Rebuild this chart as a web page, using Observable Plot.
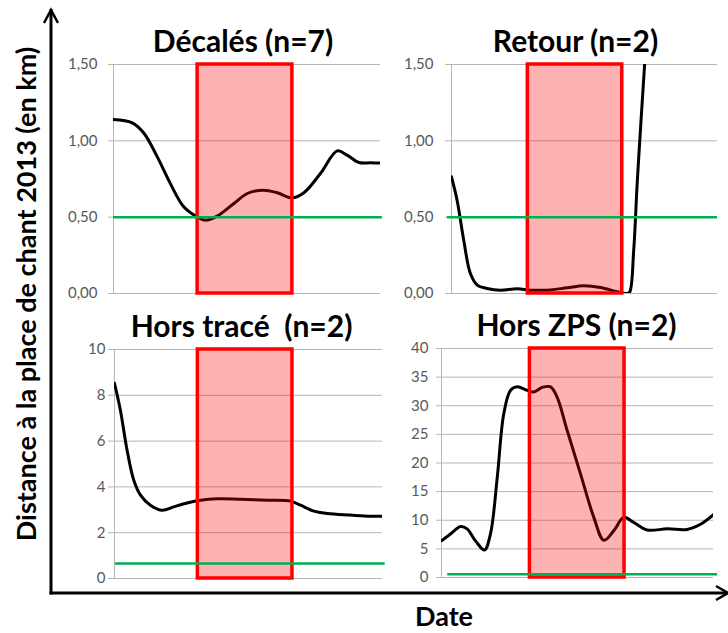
<!DOCTYPE html>
<html>
<head>
<meta charset="utf-8">
<script src="https://cdn.jsdelivr.net/npm/d3@7"></script>
<script src="https://cdn.jsdelivr.net/npm/@observablehq/plot@0.6"></script>
<style>
  html, body { margin: 0; padding: 0; background: #fff; }
  #root { position: relative; width: 728px; height: 633px; overflow: hidden; font-family: Lato, "Open Sans", sans-serif; }
  #root > svg, #root > div { position: absolute; }
  .ptitle { white-space: pre; }
</style>
</head>
<body>
<div id="root"></div>
<script>
// ---------- DATA ----------
const panelTitles = ["Décalés (n=7)", "Retour (n=2)", "Hors tracé  (n=2)", "Hors ZPS (n=2)"];
const yAxisTitle = "Distance à la place de chant 2013 (en km)";
const xAxisTitle = "Date";

// x = relative date position (0 = start, 100 = end of the period shown)
const decalesT = [0, 7, 11.4, 16.4, 21.3, 26.3, 31.3, 34.5, 38.8, 45.1, 50.1, 56.3, 61.3, 66.9, 71.3, 77.5, 83.8, 87.5, 91.9, 96.3, 100];
const decalesD = [1.14, 1.118, 1.05, 0.895, 0.72, 0.568, 0.502, 0.48, 0.507, 0.59, 0.655, 0.677, 0.66, 0.627, 0.66, 0.786, 0.934, 0.906, 0.858, 0.856, 0.855];

const retourT = [0, 2.1, 4.6, 7.1, 9.7, 13.4, 18.4, 24.7, 29.7, 36, 43.5, 49.7, 56, 62.3, 66, 67, 68.5, 69.8, 71.1, 72.6, 76];
const retourD = [0.764, 0.611, 0.349, 0.131, 0.055, 0.033, 0.022, 0.031, 0.022, 0.022, 0.037, 0.05, 0.039, 0.011, 0, 0.01, 0.284, 0.72, 1.09, 1.5, 2.3];

const horsTraceT = [0, 2.2, 4.7, 7.2, 9.7, 13.4, 17.8, 22.1, 27.1, 32.1, 38.3, 47, 57, 65.7, 69.4, 74.4, 79.4, 88.1, 95.5, 100];
const horsTraceD = [8.52, 7.35, 5.6, 4.29, 3.64, 3.2, 2.98, 3.13, 3.3, 3.42, 3.48, 3.46, 3.42, 3.38, 3.2, 2.94, 2.84, 2.77, 2.72, 2.72];

const horsZpsT = [0, 3.3, 7, 9.4, 12.5, 15.8, 18, 20.5, 22.9, 25.4, 27.8, 31.5, 33.9, 37, 40.1, 42.5, 46.2, 51.1, 56, 59.7, 63.4, 67, 70.7, 75.6, 83, 90.3, 95.2, 100];
const horsZpsD = [6.42, 7.6, 8.9, 8.5, 6.4, 4.8, 7.6, 17.5, 28.6, 32.7, 33.3, 32.7, 32.4, 33.2, 33.3, 31.5, 25.7, 18.1, 10.5, 6.5, 8.2, 10.5, 9.6, 8.3, 8.5, 8.4, 9.3, 11];

const yMax = [1.5, 1.5, 10, 40];
const tickValues = [[0, 0.5, 1, 1.5], [0, 0.5, 1, 1.5], [0, 2, 4, 6, 8, 10], [0, 5, 10, 15, 20, 25, 30, 35, 40]];
const tickLabels = [["0,00", "0,50", "1,00", "1,50"], ["0,00", "0,50", "1,00", "1,50"], ["0", "2", "4", "6", "8", "10"], ["0", "5", "10", "15", "20", "25", "30", "35", "40"]];

// highlighted period (red box)
const periodStart = [31.5, 28.7, 31.1, 32.5];
const periodEnd = [67, 64.2, 66.4, 67.3];

// green threshold line
const thresholdValue = [0.5, 0.5, 0.655, 0.58];
const thresholdFrom = [0, -1.5, 0.4, 2.3];
const thresholdTo = [100.7, 100, 101, 101.5];

const seriesT = [decalesT, retourT, horsTraceT, horsZpsT];
const seriesD = [decalesD, retourD, horsTraceD, horsZpsD];

// ---------- LAYOUT ----------
const layout = [
  {left: 60,  top: 0,   width: 330, height: 300, mL: 53, mR: 10, mT: 64, mB: 7, pad: 11, tick: 5, dx: -4},
  {left: 395, top: 0,   width: 330, height: 300, mL: 56, mR: 8,  mT: 64, mB: 7, pad: 12, tick: 6, dx: -9},
  {left: 60,  top: 300, width: 330, height: 285, mL: 54, mR: 8,  mT: 49, mB: 7, pad: 3,  tick: 6, dx: -7},
  {left: 395, top: 300, width: 330, height: 285, mL: 46, mR: 12, mT: 48, mB: 8, pad: 8,  tick: 5, dx: -1}
];

const root = document.getElementById("root");
const GRID = "#b5b5b5";

for (let i = 0; i < 4; i++) {
  const L = layout[i];
  const pts = seriesT[i].map((t, j) => ({t, d: seriesD[i][j]}));
  const labelOf = new Map(tickValues[i].map((v, j) => [v, tickLabels[i][j]]));
  const chart = Plot.plot({
    width: L.width,
    height: L.height,
    marginLeft: L.mL, marginRight: L.mR, marginTop: L.mT, marginBottom: L.mB,
    style: {fontFamily: "Lato, 'Open Sans', sans-serif", overflow: "visible", background: "transparent"},
    x: {domain: [0, 100], axis: null},
    y: {domain: [0, yMax[i]]},
    marks: [
      Plot.gridY(tickValues[i], {stroke: GRID, strokeOpacity: 1, strokeWidth: 1}),
      Plot.axisY(tickValues[i], {
        tickSize: L.tick, tickPadding: L.pad, label: null,
        stroke: GRID, strokeOpacity: 1, fill: "#595959", fontSize: 15,
        tickFormat: v => labelOf.get(v)
      }),
      Plot.ruleX([0], {stroke: GRID, strokeWidth: 1}),
      Plot.line(pts, {x: "t", y: "d", curve: "catmull-rom", stroke: "#000", strokeWidth: 3, clip: true}),
      Plot.rect([{s: periodStart[i], e: periodEnd[i], top: yMax[i]}], {
        x1: "s", x2: "e", y1: () => 0, y2: "top",
        fill: "#ff0000", fillOpacity: 0.3, stroke: "#ff0000", strokeWidth: 3.5
      }),
      Plot.ruleY([{v: thresholdValue[i], a: thresholdFrom[i], b: thresholdTo[i]}], {
        y: "v", x1: "a", x2: "b", stroke: "#00b050", strokeWidth: 2.5
      }),
      Plot.text([panelTitles[i]], {
        text: d => d, frameAnchor: "top", lineAnchor: "middle", dy: -22, dx: L.dx,
        fontSize: 30, fontWeight: "bold", fill: "#000", className: "ptitle"
      })
    ]
  });
  chart.style.left = L.left + "px";
  chart.style.top = L.top + "px";
  root.appendChild(chart);
}

// ---------- Overall axes (arrows) and titles ----------
const svg = d3.select(root).append("svg")
  .attr("width", 728).attr("height", 633)
  .style("left", "0px").style("top", "0px")
  .style("pointer-events", "none")
  .style("font-family", "Lato, 'Open Sans', sans-serif");

svg.append("line").attr("x1", 51).attr("y1", 9).attr("x2", 51).attr("y2", 594.5)
  .attr("stroke", "#000").attr("stroke-width", 3);
svg.append("line").attr("x1", 49.5).attr("y1", 593).attr("x2", 727).attr("y2", 593)
  .attr("stroke", "#000").attr("stroke-width", 3);
svg.append("polyline").attr("points", "44,23 51,10 58,23")
  .attr("fill", "none").attr("stroke", "#000").attr("stroke-width", 2.5);
svg.append("polyline").attr("points", "716,586 728,593 716,600")
  .attr("fill", "none").attr("stroke", "#000").attr("stroke-width", 2.5);

svg.append("text").attr("x", 444).attr("y", 626).attr("text-anchor", "middle")
  .attr("font-size", 27).attr("font-weight", "bold").attr("fill", "#000").text(xAxisTitle);

svg.append("text").attr("transform", "translate(36,294) rotate(-90)").attr("text-anchor", "middle")
  .attr("font-size", 27).attr("font-weight", "bold").attr("fill", "#000").text(yAxisTitle);
</script>
</body>
</html>
